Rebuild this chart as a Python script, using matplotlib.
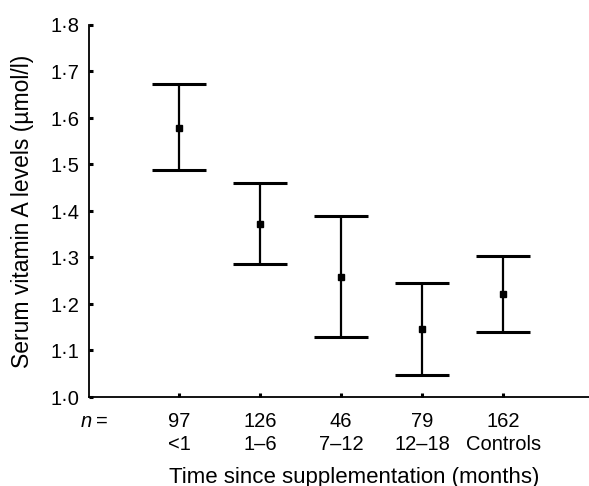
import matplotlib
matplotlib.use("Agg")
import matplotlib.pyplot as plt

plt.rcParams['font.family'] = ['Liberation Sans', 'DejaVu Sans']

# data
n_counts = ['97', '126', '46', '79', '162']
groups = ['<1', '1\u20136', '7\u201312', '12\u201318', 'Controls']
means = [1.579, 1.372, 1.259, 1.146, 1.222]
upper = [1.673, 1.461, 1.389, 1.245, 1.303]
lower = [1.489, 1.285, 1.130, 1.047, 1.140]

fs = 14.5
fig = plt.figure(figsize=(5.89, 4.86), dpi=100)
ax = fig.add_axes([89/589, 1 - 397/486, 500/589, 372/486])

x = list(range(1, len(means) + 1))
yerr = [[m - l for m, l in zip(means, lower)], [u - m for u, m in zip(upper, means)]]
ax.errorbar(x, means, yerr=yerr, fmt='s', color='black', ms=4.5,
            elinewidth=1.6, capsize=19.5, capthick=2.2, ecolor='black')

ax.set_xlim(-0.11, 6.06)
ax.set_ylim(1.0, 1.8)
ax.spines['top'].set_visible(False)
ax.spines['right'].set_visible(False)
ax.spines['left'].set_linewidth(1.3)
ax.spines['bottom'].set_linewidth(1.3)

yt = [1.0, 1.1, 1.2, 1.3, 1.4, 1.5, 1.6, 1.7, 1.8]
ax.set_yticks(yt)
ax.set_yticklabels([('%.1f' % v).replace('.', '\u00b7') for v in yt])
ax.set_xticks(x)
ax.set_xticklabels([a + '\n' + b for a, b in zip(n_counts, groups)], linespacing=1.25)
ax.tick_params(axis='both', direction='in', length=3, width=2.2, labelsize=fs)
ax.tick_params(axis='x', pad=11)
ax.tick_params(axis='y', pad=7)

# "n =" row label
fig.text(92/589, 1 - 421/486, 'n', fontstyle='italic', ha='right', va='center', fontsize=fs)
fig.text(96/589, 1 - 421/486, '=', ha='left', va='center', fontsize=fs)

fig.text(354/589, 1 - 477/486, 'Time since supplementation (months)',
         ha='center', va='center', fontsize=16)
fig.text(23/589, 1 - 211/486, 'Serum vitamin A levels (\u00b5mol/l)',
         ha='center', va='center', rotation=90, fontsize=16.5)

fig.savefig('out.png', dpi=100)
